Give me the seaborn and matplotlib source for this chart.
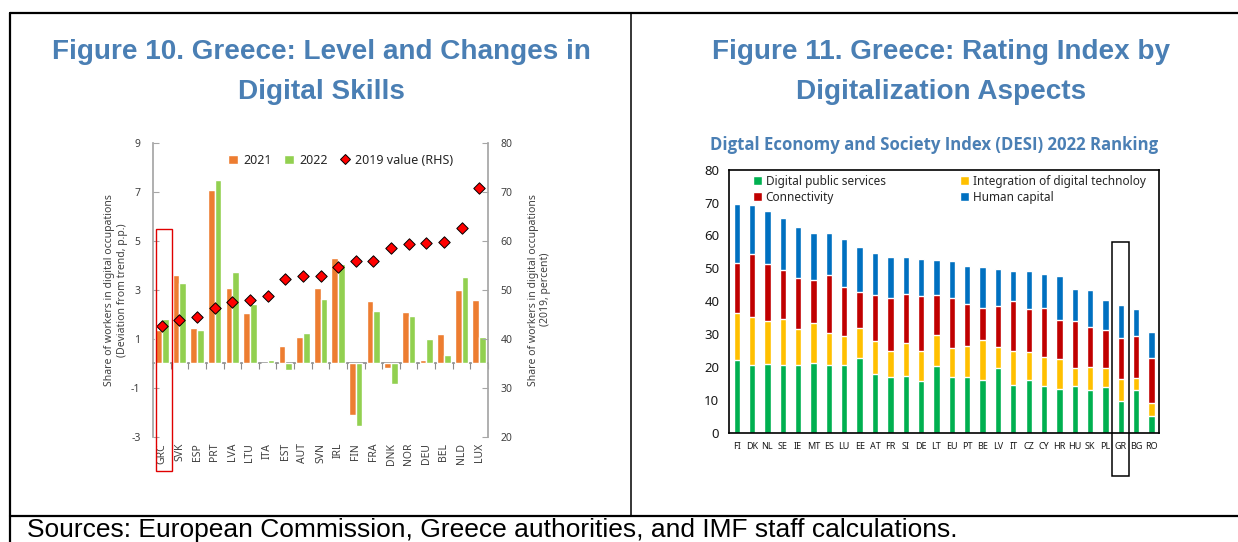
import numpy as np
import pandas as pd
import matplotlib
matplotlib.use("Agg")
import matplotlib.pyplot as plt
import seaborn as sns
from matplotlib.lines import Line2D
from matplotlib.patches import Rectangle, Patch
import matplotlib.transforms as mtransforms

# ---------------- data: Figure 10 ----------------
countries_l = ["GRC", "SVK", "ESP", "PRT", "LVA", "LTU", "ITA", "EST", "AUT", "SVN",
               "IRL", "FIN", "FRA", "DNK", "NOR", "DEU", "BEL", "NLD", "LUX"]
v2021 = [1.37, 3.62, 1.44, 7.05, 3.06, 2.04, 0.0, 0.72, 1.06, 3.06,
         4.29, -2.12, 2.53, -0.18, 2.10, 0.12, 1.20, 2.98, 2.57]
v2022 = [1.82, 3.29, 1.36, 7.47, 3.74, 2.41, 0.14, -0.27, 1.22, 2.64,
         4.06, -2.57, 2.15, -0.84, 1.93, 0.97, 0.33, 3.51, 1.05]
v2019 = [42.6, 43.75, 44.4, 46.3, 47.55, 47.8, 48.8, 52.1, 52.8, 52.8,
         54.6, 55.8, 55.9, 58.6, 59.4, 59.6, 59.7, 62.65, 70.75]

# ---------------- data: Figure 11 (DESI 2022) ----------------
countries_r = ["FI", "DK", "NL", "SE", "IE", "MT", "ES", "LU", "EE", "AT", "FR", "SI", "DE", "LT",
               "EU", "PT", "BE", "LV", "IT", "CZ", "CY", "HR", "HU", "SK", "PL", "GR", "BG", "RO"]
public_services = [22.1, 20.6, 20.9, 20.5, 20.7, 21.3, 20.7, 20.7, 22.7, 17.9, 16.8, 17.3, 15.8, 20.4,
                   16.8, 16.8, 16.1, 19.6, 14.5, 16.1, 14.2, 13.3, 14.2, 12.9, 13.8, 9.6, 12.9, 5.2]
integration = [14.4, 14.5, 13.1, 14.1, 10.9, 12.1, 9.7, 8.8, 9.1, 9.9, 8.1, 10.0, 9.0, 9.3,
               8.95, 9.6, 12.0, 6.5, 10.3, 8.3, 8.8, 9.1, 5.5, 7.0, 5.8, 6.8, 3.8, 3.8]
connectivity = [15.1, 19.3, 17.4, 15.0, 15.4, 13.2, 17.5, 14.9, 11.1, 14.2, 16.1, 15.0, 16.9, 12.3,
                15.15, 12.8, 9.9, 12.5, 15.25, 13.2, 14.8, 12.0, 14.4, 12.3, 11.5, 12.4, 12.8, 13.8]
human_capital = [18.0, 14.85, 16.0, 15.6, 15.7, 14.2, 12.8, 14.5, 13.5, 12.65, 12.4, 11.1, 11.1, 10.6,
                 11.4, 11.6, 12.3, 11.1, 9.25, 11.5, 10.6, 13.15, 9.6, 11.2, 9.4, 10.1, 8.1, 7.8]

series_r = ["Digital public services", "Integration of digital technoloy", "Connectivity", "Human capital"]
colors_r = ["#00B050", "#FFC000", "#C00000", "#0070C0"]

# ---------------- figure ----------------
sns.set_theme(style="white")
plt.rcParams["font.family"] = ["Noto Sans", "DejaVu Sans"]
plt.rcParams["axes.unicode_minus"] = False

W, H = 1238, 542
fig = plt.figure(figsize=(W / 100, H / 100), dpi=100)
renderer = fig.canvas.get_renderer()


def fx(px):
    return px / W


def fy(py):
    return 1 - py / H


# frame lines
for x0, y0, x1, y1, lw in [(10, 13, 1238, 13, 1.6), (10, 13, 10, 542, 1.6),
                           (631, 13, 631, 516, 1.1), (10, 516, 1238, 516, 1.6)]:
    fig.add_artist(Line2D([fx(x0), fx(x1)], [fy(y0), fy(y1)], color="black", lw=lw))

title_color = "#4a7fb4"


def fit_text(x, y, s, target_w, size0, max_size=None, **kw):
    t = fig.text(x, y, s, fontsize=size0, **kw)
    w = t.get_window_extent(renderer).width
    size = size0 * target_w / w
    if max_size is not None:
        size = min(size, max_size)
    t.set_fontsize(size)
    return t


t1 = fit_text(fx(321), fy(52), "Figure 10. Greece: Level and Changes in", 538, 20,
              ha="center", va="center", family="Liberation Sans", weight="bold", color=title_color)
tsize = t1.get_fontsize()
fig.text(fx(321), fy(92), "Digital Skills", fontsize=tsize, ha="center", va="center",
         family="Liberation Sans", weight="bold", color=title_color)
fig.text(fx(941), fy(52), "Figure 11. Greece: Rating Index by", fontsize=tsize, ha="center", va="center",
         family="Liberation Sans", weight="bold", color=title_color)
fig.text(fx(941), fy(92), "Digitalization Aspects", fontsize=tsize, ha="center", va="center",
         family="Liberation Sans", weight="bold", color=title_color)

fit_text(fx(27), fy(537), "Sources: European Commission, Greece authorities, and IMF staff calculations.",
         985, 19, max_size=19, ha="left", va="baseline",
         family=["Liberation Sans Narrow", "Liberation Sans"], color="black")

fit_text(fx(934), fy(145), "Digtal Economy and Society Index (DESI) 2022 Ranking", 448, 11,
         ha="center", va="center", family=["Open Sans", "DejaVu Sans"], weight="bold",
         color=title_color)

# ---------------- left chart ----------------
nL = len(countries_l)
axL = fig.add_axes([fx(153), fy(436.7), (488 - 153) / W, (436.7 - 142.7) / H])
dfL = pd.DataFrame({
    "country": countries_l * 2,
    "year": ["2021"] * nL + ["2022"] * nL,
    "value": v2021 + v2022,
})
pal_l = {"2021": "#ED7D31", "2022": "#92D050"}
sns.barplot(data=dfL, x="country", y="value", hue="year", order=countries_l,
            hue_order=["2021", "2022"], palette=pal_l, width=0.76, gap=0,
            saturation=1, errorbar=None, legend=False, ax=axL)
axL.set_ylim(-3, 9)
axL.set_yticks(np.arange(-3, 10, 2))
axL.set_xlim(-0.5, nL - 0.5)
axL.set_xlabel("")
for s in ["top", "bottom", "right"]:
    axL.spines[s].set_visible(False)
axL.spines["left"].set_color("#a6a6a6")
axL.tick_params(axis="y", direction="in", length=4, color="#a6a6a6", labelsize=7.5,
                labelcolor="#404040", pad=9, width=0.8)
axL.tick_params(axis="x", length=0, labelsize=7.5, labelcolor="#404040", pad=4.5, labelrotation=90)
axL.set_ylabel("Share of workers in digital occupations\n(Deviation from trend, p.p.)",
               fontsize=7.5, color="#404040")
axL.yaxis.set_label_coords(-0.075, 0.5)

sec = axL.secondary_xaxis(0.25)
sec.set_xticks(np.arange(nL + 1) - 0.5)
sec.set_xticklabels([])
sec.tick_params(direction="out", length=4, color="#8c8c8c", width=0.8)
sec.spines["bottom"].set_color("#8c8c8c")

axR2 = axL.twinx()
sns.scatterplot(x=np.arange(nL), y=v2019, marker="D", s=34, color="#FF0000",
                edgecolor="black", linewidth=0.7, zorder=4, legend=False, ax=axR2)
axR2.set_ylim(20, 80)
axR2.set_yticks(np.arange(20, 81, 10))
axR2.set_xlim(-0.5, nL - 0.5)
for s in ["top", "bottom", "left"]:
    axR2.spines[s].set_visible(False)
axR2.spines["right"].set_color("#a6a6a6")
axR2.tick_params(axis="y", direction="in", length=4, color="#a6a6a6", labelsize=7.5,
                 labelcolor="#404040", pad=9, width=0.8)
axR2.set_ylabel("Share of workers in digital occupations\n(2019, percent)", fontsize=7.5,
                color="#404040", rotation=90)
axR2.yaxis.set_label_coords(1.118, 0.5)

handles_l = [Patch(facecolor="#ED7D31"), Patch(facecolor="#92D050"),
             Line2D([], [], marker="D", ls="none", markerfacecolor="#FF0000",
                    markeredgecolor="black", markeredgewidth=0.7, markersize=5)]
axR2.legend(handles_l, ["2021", "2022", "2019 value (RHS)"], ncol=3, frameon=False,
            loc="center left", bbox_to_anchor=(0.19, 0.94), fontsize=9, handlelength=0.8,
            handleheight=0.8, handletextpad=0.4, columnspacing=1.0, labelcolor="#262626")

blendL = mtransforms.blended_transform_factory(axL.transData, axL.transAxes)
axR2.add_patch(Rectangle((-0.33, -0.116), 0.89, 0.823, transform=blendL, fill=False,
                         edgecolor="#e00000", lw=1.0, clip_on=False, zorder=6))

# ---------------- right chart ----------------
nR = len(countries_r)
axD = fig.add_axes([fx(729), fy(432.7), (1159.3 - 729) / W, (432.7 - 169.7) / H])
comp = np.array([public_services, integration, connectivity, human_capital])
cum = np.cumsum(comp, axis=0)
for k in range(3, -1, -1):
    sns.barplot(x=countries_r, y=cum[k], order=countries_r, color=colors_r[k], width=0.41,
                saturation=1, errorbar=None, ax=axD)
axD.set_ylim(0, 80)
axD.set_yticks(np.arange(0, 81, 10))
axD.set_xlim(-0.5, nR - 0.5)
axD.set_xticks(np.arange(nR + 1) - 0.5, minor=True)
for s in axD.spines.values():
    s.set_color("black")
    s.set_linewidth(1.2)
axD.tick_params(axis="y", length=0, labelsize=9.5, labelcolor="#1a1a1a", pad=7)
axD.tick_params(axis="x", which="major", length=0, labelsize=6.5, labelcolor="#1a1a1a", pad=7)
axD.tick_params(axis="x", which="minor", direction="inout", length=4, color="black", width=0.8)

handles_r = [Patch(facecolor=c) for c in colors_r]
order = [0, 2, 1, 3]
axD.legend([handles_r[i] for i in order], [series_r[i] for i in order], ncol=2, frameon=False,
           loc="upper left", bbox_to_anchor=(0.03, 1.02), fontsize=8.5, handlelength=0.8,
           handleheight=0.8, handletextpad=0.3, labelspacing=0.25, columnspacing=6.3)

blendD = mtransforms.blended_transform_factory(axD.transData, axD.transAxes)
axD.add_patch(Rectangle((24.45, -0.165), 1.1, 0.89, transform=blendD, fill=False,
                        edgecolor="black", lw=1.1, clip_on=False, zorder=6))

fig.savefig("out.png", dpi=100)
